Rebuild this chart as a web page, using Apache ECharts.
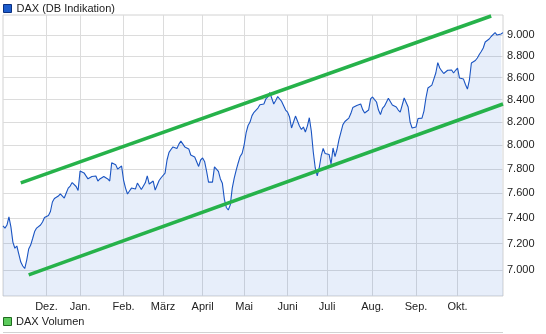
<!DOCTYPE html>
<html>
<head>
<meta charset="utf-8">
<script src="https://cdn.jsdelivr.net/npm/echarts@6/dist/echarts.min.js"></script>
<style>
html,body{margin:0;padding:0;background:#fff;}
#c{width:546px;height:334px;}
</style>
</head>
<body>
<div id="c"></div>
<script>
// month labels and the trading-day index (from 1 Nov 2012) where each month starts
const months = ['Dez.','Jan.','Feb.','März','April','Mai','Juni','Juli','Aug.','Sep.','Okt.'];
const monthStart = [22,39,61,81,101,122,144,164,187,209,230];
// y tick labels
const yTicks = [7000,7200,7400,7600,7800,8000,8200,8400,8600,8800,9000];
// DAX daily values (trading-day index = array index)
const dax = [
7338,7321,7345,7410,7330,7212,7165,7182,7120,7060,
7030,7011,7075,7159,7189,7240,7294,7321,7327,7345,
7369,7405,7413,7420,7452,7528,7556,7552,7576,7593,
7585,7560,7601,7641,7658,7686,7682,7654,7621,7782,
7774,7766,7741,7717,7707,7736,7732,7741,7699,7716,
7728,7736,7749,7716,7699,7851,7846,7835,7798,7784,
7824,7707,7641,7593,7617,7641,7641,7633,7682,7670,
7629,7625,7684,7741,7674,7666,7699,7625,7633,7703,
7726,7715,7764,7874,7939,7963,7985,7979,7972,8009,
8035,8018,7985,7981,7968,7916,7930,7900,7887,7820,
7874,7891,7862,7782,7690,7674,7690,7816,7824,7778,
7716,7680,7552,7484,7464,7505,7641,7723,7790,7849,
7904,7930,8001,8105,8170,8200,8257,8286,8302,8324,
8353,8350,8360,8405,8423,8463,8459,8360,8392,8427,
8405,8383,8378,8306,8288,8244,8148,8165,8253,8262,
8165,8135,8157,8113,8165,8238,8122,7942,7807,7741,
7807,7908,7972,7929,7925,7921,7840,7976,7902,7963,
8048,8113,8178,8205,8198,8235,8275,8328,8324,8347,
8349,8360,8310,8280,8268,8306,8405,8423,8400,8378,
8306,8266,8321,8341,8351,8411,8418,8351,8347,8333,
8306,8288,8271,8414,8409,8333,8200,8148,8131,8157,
8231,8218,8235,8297,8414,8504,8504,8531,8586,8642,
8738,8688,8661,8637,8654,8667,8665,8670,8642,8667,
8688,8595,8605,8586,8536,8495,8577,8735,8744,8758,
8782,8815,8843,8876,8933,8952,8962,8986,9000,9023,
9000,9010,9010,9023
];
// trend channel lines: [trading-day index, value]
const upperTrend = [[9,7683],[247,9185]];
const lowerTrend = [[13,6964],[253,8360]];

const FONT = '"Liberation Sans", Arial, sans-serif';
const chart = echarts.init(document.getElementById('c'), null, {renderer:'canvas'});
const fmtThousands = v => String(Math.round(v)).replace(/\B(?=(\d{3})+$)/g, '.');

chart.setOption({
  animation: false,
  backgroundColor: '#ffffff',
  textStyle: {fontFamily: FONT},
  legend: {
    left: 3, top: 3, padding: 0,
    itemWidth: 8, itemHeight: 8, itemGap: 10,
    textStyle: {fontSize: 11, color: '#222', fontFamily: FONT},
    data: [{name: 'DAX (DB Indikation)', icon: 'rect',
            itemStyle: {color: '#1c5ccc', borderColor: '#0b2f80', borderWidth: 1}}]
  },
  grid: {
    left: 3, top: 15, width: 500, height: 281,
    show: true, borderColor: '#d2d2d2', borderWidth: 1, backgroundColor: '#ffffff'
  },
  xAxis: {
    type: 'value', min: 0, max: 253,
    axisLine: {show: false},
    axisTick: {show: false, customValues: monthStart},
    splitLine: {show: true, lineStyle: {color: '#dcdcdc', width: 1}},
    axisLabel: {
      customValues: monthStart, margin: 5, fontSize: 11, color: '#222', fontFamily: FONT,
      formatter: v => months[monthStart.indexOf(v)] || ''
    }
  },
  yAxis: {
    type: 'log', position: 'right', min: 6808, max: 9195,
    axisLine: {show: false},
    axisTick: {show: false, customValues: yTicks},
    splitLine: {show: true, lineStyle: {color: '#dcdcdc', width: 1}},
    axisLabel: {
      customValues: yTicks, margin: 4, fontSize: 11, color: '#222', fontFamily: FONT,
      formatter: v => fmtThousands(v)
    }
  },
  series: [
    {
      name: 'DAX (DB Indikation)', type: 'line',
      data: dax.map((v, i) => [i, v]),
      showSymbol: false, symbol: 'none',
      lineStyle: {color: '#1a54c2', width: 1.1},
      itemStyle: {color: '#1c5ccc'},
      areaStyle: {color: 'rgba(30,90,210,0.15)', origin: 'start'},
      z: 2
    },
    {
      name: 'upper', type: 'line', data: upperTrend, symbol: 'none',
      lineStyle: {color: '#26b24a', width: 3.5}, z: 3, silent: true
    },
    {
      name: 'lower', type: 'line', data: lowerTrend, symbol: 'none',
      lineStyle: {color: '#26b24a', width: 3.5}, z: 3, silent: true
    }
  ],
  graphic: [
    {type: 'rect', shape: {x: 3.5, y: 317.5, width: 8, height: 8},
     style: {fill: '#5ccb5c', stroke: '#1f6b1f', lineWidth: 1}},
    {type: 'text', x: 16, y: 322,
     style: {text: 'DAX Volumen', fill: '#222', font: '11px ' + FONT, verticalAlign: 'middle'}},
    {type: 'line', shape: {x1: 3, y1: 332.5, x2: 503, y2: 332.5},
     style: {stroke: '#d2d2d2', lineWidth: 1}}
  ]
});
</script>
</body>
</html>
